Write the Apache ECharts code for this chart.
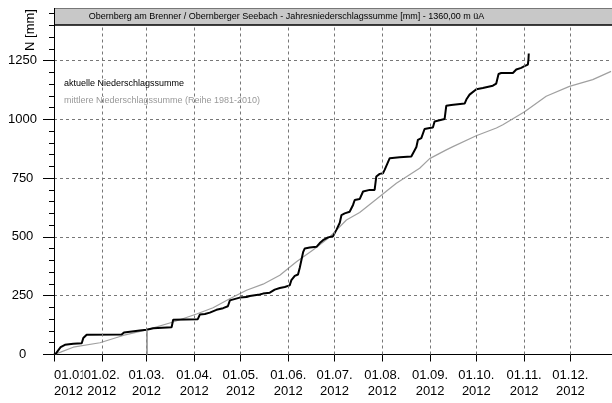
<!DOCTYPE html>
<html><head><meta charset="utf-8">
<script src="https://cdn.jsdelivr.net/npm/echarts@6/dist/echarts.min.js"></script>
<style>html,body{margin:0;padding:0;background:#fff}#c{width:612px;height:403px}</style>
</head><body><div id="c"></div>
<script>
// Month start offsets (days since 01.01.2012) and tick labels
const monthDays = [0,31,60,91,121,152,182,213,244,274,305,335];
const monthLabels = ['01.01.\n2012','01.02.\n2012','01.03.\n2012','01.04.\n2012','01.05.\n2012','01.06.\n2012','01.07.\n2012','01.08.\n2012','01.09.\n2012','01.10.\n2012','01.11.\n2012','01.12.\n2012'];
const yMajor = [0,250,500,750,1000,1250];
const yMinor = [0,50,100,150,200,250,300,350,400,450,500,550,600,650,700,750,800,850,900,950,1000,1050,1100,1150,1200,1250,1300,1350,1400,1450];

// aktuelle Niederschlagssumme (day, mm)
const actualDays = [0,1.3,4.3,7.1,12.5,18.0,19.0,21.2,43.9,45.4,55.7,60.1,64.4,76.3,77.3,93.3,94.6,97.9,101.1,105.4,109.7,112.8,114.1,115.2,120.5,124.9,127.0,133.5,135.6,140.0,143.2,146.5,149.7,152.9,154.0,156.2,158.3,159.4,161.6,162.7,165.9,170.3,172.4,174.5,177.8,181.0,182.1,183.2,185.4,186.5,188.6,191.8,194.0,195.1,198.3,199.4,200.5,204.8,208.0,209.1,211.3,213.4,214.5,217.8,224.2,231.8,232.9,235.1,236.1,238.3,240.4,243.7,245.8,246.9,248.0,253.4,254.5,257.7,266.4,267.5,269.6,270.7,274.0,278.2,284.7,286.9,288.4,290.1,297.7,299.9,303.1,305.2,307.4,307.8,308.0];
const actualVals = [0,5,31,41,46,48,70,84,85,94,102,105,112,116,148,150,170,172,178,190,197,205,230,237,242,244,249,255,259,263,276,283,287,294,316,334,340,368,435,451,455,458,474,486,498,503,508,530,560,593,600,607,636,657,661,668,693,700,700,757,768,771,785,835,839,842,849,882,913,920,959,963,965,991,998,1001,1058,1061,1067,1084,1105,1112,1128,1133,1143,1152,1193,1197,1197,1212,1219,1226,1233,1254,1280];

// mittlere Niederschlagssumme (Reihe 1981-2010)
const meanDays = [0,4.3,12.5,29.8,44.9,60.0,77.3,92.5,103.2,114.0,124.9,135.6,146.5,157.3,168.0,178.9,189.7,198.3,209.1,222.1,237.2,243.7,254.5,258.8,273.9,287.0,291.2,305.3,319.3,334.4,349.5,361.4];
const meanVals = [0,10,31,50,81,105,138,172,199,237,273,299,337,394,444,500,572,604,660,728,792,833,870,884,930,963,977,1032,1098,1140,1169,1204];

const FONT = 'Liberation Sans, Arial, sans-serif';
const chart = echarts.init(document.getElementById('c'));
const zip = (a,b) => a.map((d,i)=>[d,b[i]]);
const labelOf = v => monthLabels[monthDays.indexOf(v)];

chart.setOption({
  animation: false,
  backgroundColor: '#fff',
  grid: {left: 54, right: 0, top: 13.5, bottom: 48.5, containLabel: false},
  xAxis: [{
    // first month label only, left aligned at the axis start
    type: 'value', min: 0, max: 362, position: 'bottom', z: 1,
    axisLine: {show: false}, axisTick: {show: false}, splitLine: {show: false},
    axisLabel: {customValues: monthDays.slice(0, 1), align: 'left', margin: 13, showMinLabel: true, showMaxLabel: true,
      formatter: labelOf, color: '#000', fontFamily: FONT, fontSize: 13, lineHeight: 16}
  }, {
    type: 'value', min: 0, max: 362, position: 'bottom', z: 2,
    axisLine: {lineStyle: {color: '#000', width: 1}},
    axisTick: {customValues: monthDays, length: 7, lineStyle: {color: '#000'}},
    axisLabel: {customValues: monthDays.slice(1), margin: 13, showMinLabel: true, showMaxLabel: true,
      formatter: labelOf, color: '#000', fontFamily: FONT, fontSize: 13, lineHeight: 16,
      backgroundColor: '#fff', padding: [0, 1]},
    splitLine: {show: false}
  }],
  yAxis: [{
    type: 'value', min: 0, max: 1450, position: 'left',
    axisLine: {show: true, lineStyle: {color: '#000'}},
    axisTick: {show: true, customValues: yMinor, length: 5, lineStyle: {color: '#000', width: 1}},
    axisLabel: {show: false}, splitLine: {show: false}
  }, {
    type: 'value', min: 0, max: 1450, interval: 250, position: 'left',
    axisLine: {show: false},
    axisTick: {show: true, customValues: yMajor, length: 11, lineStyle: {color: '#000'}},
    axisLabel: {customValues: yMajor, align: 'center', margin: 31.5, color: '#000', fontFamily: FONT, fontSize: 13,
      formatter: v => String(v)},
    splitLine: {show: true, lineStyle: {color: '#777', type: [3, 3], width: 1}}
  }],
  series: [{
    type: 'line', name: 'grid', data: [], silent: true, xAxisIndex: 1,
    markLine: {silent: true, symbol: 'none', label: {show: false},
      lineStyle: {color: '#777', type: [3, 3], width: 1},
      data: monthDays.slice(1).map(d => ({xAxis: d}))}
  }, {
    type: 'line', name: 'mittlere', data: zip(meanDays, meanVals), showSymbol: false, xAxisIndex: 1,
    lineStyle: {color: '#a0a0a0', width: 1.2}, z: 3,
    markLine: {silent: true, symbol: 'none', label: {show: false},
      lineStyle: {color: '#8a8a8a', type: 'solid', width: 1.5},
      data: [[{coord: [monthDays[2], 0]}, {coord: [monthDays[2], actualVals[11]]}]]}
  }, {
    type: 'line', name: 'aktuelle', data: zip(actualDays, actualVals), showSymbol: false, xAxisIndex: 1,
    lineStyle: {color: '#000', width: 2}, z: 4
  }],
  graphic: [
    {type: 'rect', z: 100, shape: {x: 54, y: 8, width: 558, height: 17}, style: {fill: '#c8c8c8', stroke: null}},
    {type: 'line', z: 101, shape: {x1: 54, y1: 8.5, x2: 612, y2: 8.5}, style: {stroke: '#777', lineWidth: 1}},
    {type: 'line', z: 101, shape: {x1: 54, y1: 25, x2: 612, y2: 25}, style: {stroke: '#000', lineWidth: 1.5}},
    {type: 'line', z: 101, shape: {x1: 54.5, y1: 8, x2: 54.5, y2: 25}, style: {stroke: '#000', lineWidth: 1}},
    {type: 'text', z: 102, x: 286.5, y: 17, style: {text: 'Obernberg am Brenner / Obernberger Seebach - Jahresniederschlagssumme [mm] - 1360,00 m üA',
      fill: '#000', font: '9px ' + FONT, textAlign: 'center', textVerticalAlign: 'middle'}},
    {type: 'text', z: 102, x: 64, y: 84, style: {text: 'aktuelle Niederschlagssumme', fill: '#000', font: '9px ' + FONT, textVerticalAlign: 'middle'}},
    {type: 'text', z: 102, x: 64, y: 100.5, style: {text: 'mittlere Niederschlagssumme (Reihe 1981-2010)', fill: '#999', font: '9px ' + FONT, textVerticalAlign: 'middle'}},
    {type: 'text', z: 102, x: 30, y: 30, rotation: Math.PI / 2, style: {text: 'N [mm]', fill: '#000', font: '13px ' + FONT, textAlign: 'center', textVerticalAlign: 'middle'}}
  ]
});
</script></body></html>
